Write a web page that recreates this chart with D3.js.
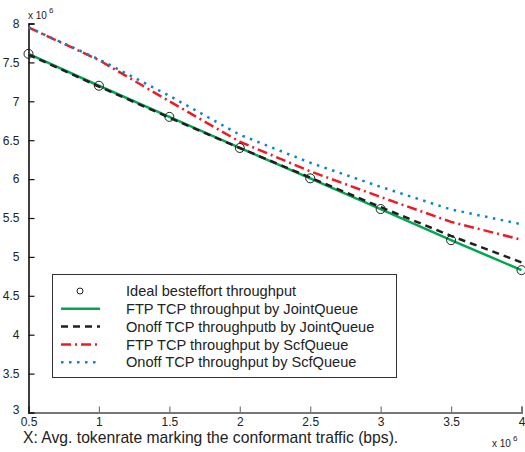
<!DOCTYPE html>
<html>
<head>
<meta charset="utf-8">
<script src="https://cdn.jsdelivr.net/npm/d3@7"></script>
<style>
  body { margin: 0; background: #fff; }
  svg { display: block; font-family: "Liberation Sans", Arial, sans-serif; }
</style>
</head>
<body>
<script>
var width = 525,
    height = 452;

// x values (x 10^6 bps)
var tokenRate = [0.5, 1, 1.5, 2, 2.5, 3, 3.5, 4];
// throughput values (x 10^6)
var idealBE     = [7.61, 7.2, 6.8, 6.4, 6.01, 5.615, 5.215, 4.83];
var ftpJoint    = [7.61, 7.2, 6.8, 6.4, 6.01, 5.615, 5.215, 4.83];
var onoffJoint  = [7.6, 7.19, 6.79, 6.4, 6.02, 5.64, 5.27, 4.93];
var ftpScf      = [7.95, 7.53, 7.0, 6.48, 6.1, 5.77, 5.45, 5.22];
var onoffScf    = [7.95, 7.54, 7.07, 6.57, 6.21, 5.9, 5.61, 5.42];

var xTicks = [0.5, 1, 1.5, 2, 2.5, 3, 3.5, 4];
var yTicks = [3, 3.5, 4, 4.5, 5, 5.5, 6, 6.5, 7, 7.5, 8];

var legendLabels = [
  'Ideal besteffort throughput',
  'FTP TCP throughput by JointQueue',
  'Onoff TCP throughputb by JointQueue',
  'FTP TCP throughput by ScfQueue',
  'Onoff TCP throughput by ScfQueue'
];

var x = d3.scaleLinear().domain([0.5, 4]).range([28.5, 521.5]);
var y = d3.scaleLinear().domain([3, 8]).range([412.5, 23.5]);

var svg = d3.select('body').append('svg')
  .attr('width', width)
  .attr('height', height);

// series styles
var series = [
  { values: ftpJoint,   color: '#00a651', dash: null },
  { values: onoffJoint, color: '#231f20', dash: '7,5' },
  { values: ftpScf,     color: '#ed1c24', dash: '10,4,2,4' },
  { values: onoffScf,   color: '#0a85c9', dash: '2.5,5.5' }
];

var line = d3.line()
  .x(function(d, i) { return x(tokenRate[i]); })
  .y(function(d) { return y(d); });

// axes: left black, bottom gray, ticks pointing inward
var xAxis = svg.append('g')
  .attr('transform', 'translate(0,' + y(3) + ')')
  .call(d3.axisBottom(x).tickValues(xTicks).tickSize(-6).tickPadding(4)
    .tickFormat(function(d) { return d; }));
xAxis.select('.domain').attr('stroke', '#777').attr('stroke-width', 2);
xAxis.selectAll('.tick line').attr('stroke', '#777').attr('stroke-width', 1.2);
xAxis.selectAll('.tick text').attr('font-size', '12px').attr('fill', '#222')
  .attr('font-family', '"Liberation Sans", Arial, sans-serif')
  .attr('dy', '0.75em');

var yAxis = svg.append('g')
  .attr('transform', 'translate(' + x(0.5) + ',0)')
  .call(d3.axisLeft(y).tickValues(yTicks).tickSize(-6).tickPadding(9)
    .tickFormat(function(d) { return d; }));
yAxis.select('.domain').attr('stroke', '#111').attr('stroke-width', 1.6);
yAxis.selectAll('.tick line').attr('stroke', '#111').attr('stroke-width', 1.2);
yAxis.selectAll('.tick text').attr('font-size', '12px').attr('fill', '#222')
  .attr('font-family', '"Liberation Sans", Arial, sans-serif');
yAxis.selectAll('.tick').filter(function(d) { return d === 3; })
  .select('text').attr('dy', '0.1em');
yAxis.selectAll('.tick').filter(function(d) { return d === 3; })
  .select('line').remove();

// lines
svg.selectAll('path.series')
  .data(series)
  .enter()
  .append('path')
  .attr('class', 'series')
  .attr('d', function(d) { return line(d.values); })
  .attr('fill', 'none')
  .attr('stroke', function(d) { return d.color; })
  .attr('stroke-width', 2.5)
  .attr('stroke-dasharray', function(d) { return d.dash; });

// ideal circles
svg.selectAll('circle.ideal')
  .data(idealBE)
  .enter()
  .append('circle')
  .attr('class', 'ideal')
  .attr('cx', function(d, i) { return x(tokenRate[i]); })
  .attr('cy', function(d) { return y(d); })
  .attr('r', 4.5)
  .attr('fill', 'none')
  .attr('stroke', '#231f20')
  .attr('stroke-width', 1);

// exponent labels
function expLabel(px, py) {
  var t = svg.append('text')
    .attr('x', px).attr('y', py)
    .attr('font-size', '10px').attr('fill', '#222');
  t.append('tspan').text('x 10');
  t.append('tspan').attr('dx', 2).attr('dy', -6).attr('font-size', '8px').text('6');
}
expLabel(28, 19);
expLabel(492, 447);

// x axis title
svg.append('text')
  .attr('x', 23)
  .attr('y', 443)
  .attr('font-size', '15.7px')
  .attr('fill', '#222')
  .text('X: Avg. tokenrate marking the conformant traffic (bps).');

// legend
var legend = svg.append('g');
legend.append('rect')
  .attr('x', 52.5).attr('y', 274.5)
  .attr('width', 344).attr('height', 103)
  .attr('fill', '#fff')
  .attr('stroke', '#333')
  .attr('stroke-width', 1);

var rows = legend.selectAll('g.row')
  .data(legendLabels)
  .enter()
  .append('g')
  .attr('class', 'row')
  .attr('transform', function(d, i) { return 'translate(0,' + (291 + i * 17.8) + ')'; });

rows.append('text')
  .attr('x', 126)
  .attr('dy', '0.36em')
  .attr('font-size', '14.6px')
  .attr('fill', '#222')
  .text(function(d) { return d; });

rows.filter(function(d, i) { return i === 0; })
  .append('circle')
  .attr('cx', 80).attr('cy', 0).attr('r', 3)
  .attr('fill', 'none').attr('stroke', '#231f20').attr('stroke-width', 1);

rows.filter(function(d, i) { return i > 0; })
  .append('line')
  .attr('x1', 61).attr('x2', 100)
  .attr('y1', 0).attr('y2', 0)
  .attr('stroke', function(d, i) { return series[i].color; })
  .attr('stroke-width', 2.5)
  .attr('stroke-dasharray', function(d, i) { return series[i].dash; });
</script>
</body>
</html>
